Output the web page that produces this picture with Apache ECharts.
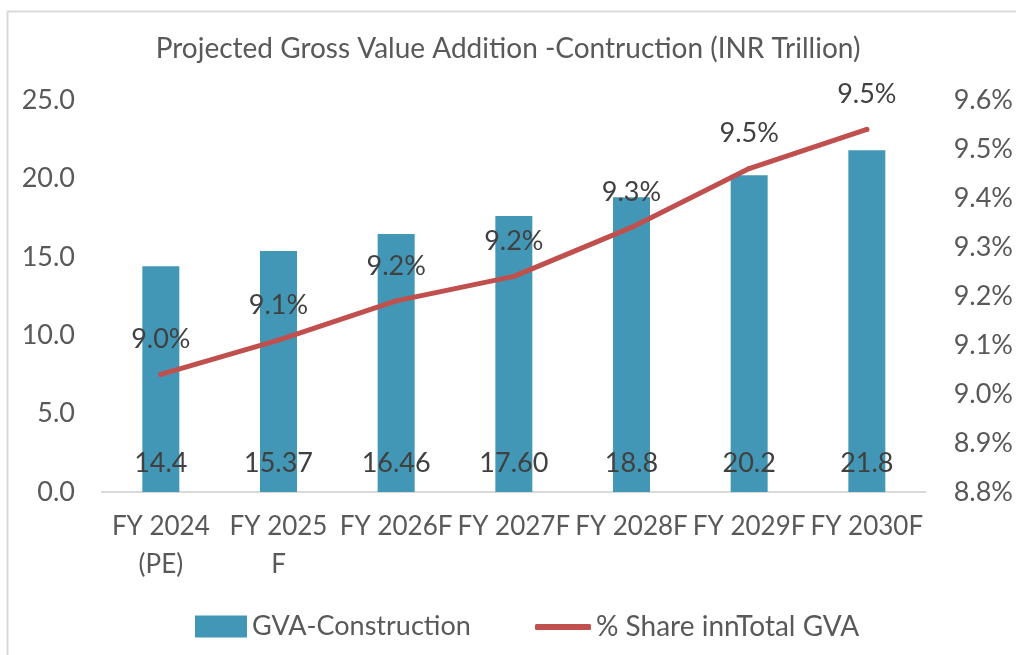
<!DOCTYPE html>
<html>
<head>
<meta charset="utf-8">
<script src="https://cdn.jsdelivr.net/npm/echarts@6/dist/echarts.min.js"></script>
<style>
  html, body { margin: 0; padding: 0; background: #fff; }
  #chart { width: 1016px; height: 655px; }
</style>
</head>
<body>
<div id="chart"></div>
<script>
// data
const categories = ["FY 2024\n(PE)", "FY 2025\nF", "FY 2026F", "FY 2027F", "FY 2028F", "FY 2029F", "FY 2030F"];
const gvaValues = [14.4, 15.37, 16.46, 17.60, 18.8, 20.2, 21.8];
const gvaLabels = ["14.4", "15.37", "16.46", "17.60", "18.8", "20.2", "21.8"];
const shareValues = [9.04, 9.11, 9.19, 9.24, 9.34, 9.46, 9.54];

const font = "Lato";
const chart = echarts.init(document.getElementById("chart"));

chart.setOption({
  animation: false,
  textStyle: { fontFamily: font },
  title: {
    text: "Projected Gross Value Addition -Contruction (INR Trillion)",
    left: "center",
    top: 30,
    textStyle: { fontFamily: font, fontSize: 28, fontWeight: "normal", color: "#595959" },
  },
  graphic: [
    {
      type: "rect",
      shape: { x: 7.5, y: 11.5, width: 1100, height: 700 },
      style: { fill: "none", stroke: "#d9d9d9", lineWidth: 2 },
      silent: true,
    },
  ],
  legend: [
    {
      data: ["GVA-Construction"],
      left: 190,
      top: 608,
      icon: "rect",
      itemWidth: 52,
      itemHeight: 22,
      itemGap: 8,
      textStyle: { fontFamily: font, fontSize: 27, color: "#595959" },
    },
    {
      data: ["% Share innTotal GVA"],
      left: 530,
      top: 608,
      icon: "roundRect",
      itemWidth: 56,
      itemHeight: 6,
      textStyle: { fontFamily: font, fontSize: 28, color: "#595959" },
    },
  ],
  grid: { left: 102, right: 85, top: 100, bottom: 163, containLabel: false },
  xAxis: {
    type: "category",
    data: categories,
    axisTick: { show: false },
    axisLine: { lineStyle: { color: "#d9d9d9", width: 2 } },
    axisLabel: {
      interval: 0,
      hideOverlap: false,
      margin: 16,
      fontSize: 26,
      lineHeight: 38,
      color: "#595959",
      fontFamily: font,
    },
  },
  yAxis: [
    {
      type: "value",
      min: 0,
      max: 25,
      interval: 5,
      axisLine: { show: false },
      axisTick: { show: false },
      splitLine: { show: false },
      axisLabel: {
        margin: 27,
        fontSize: 27,
        color: "#595959",
        fontFamily: font,
        formatter: (v) => v.toFixed(1),
      },
    },
    {
      type: "value",
      min: 8.8,
      max: 9.6,
      interval: 0.1,
      axisLine: { show: false },
      axisTick: { show: false },
      splitLine: { show: false },
      axisLabel: {
        margin: 28,
        fontSize: 27,
        color: "#595959",
        fontFamily: font,
        formatter: (v) => v.toFixed(1) + "%",
      },
    },
  ],
  series: [
    {
      name: "GVA-Construction",
      type: "bar",
      data: gvaValues,
      barWidth: 37,
      itemStyle: { color: "#4397b6" },
      label: {
        show: true,
        position: "insideBottom",
        distance: 15,
        fontSize: 27,
        color: "#404040",
        fontFamily: font,
        formatter: (p) => gvaLabels[p.dataIndex],
      },
    },
    {
      name: "% Share innTotal GVA",
      type: "line",
      yAxisIndex: 1,
      data: shareValues,
      symbol: "circle",
      symbolSize: 5,
      itemStyle: { color: "#c0504d" },
      lineStyle: { color: "#c0504d", width: 5, cap: "round", join: "round" },
      label: {
        show: true,
        position: "top",
        distance: 19,
        fontSize: 27,
        color: "#404040",
        fontFamily: font,
        formatter: (p) => p.value.toFixed(1) + "%",
      },
    },
  ],
});
</script>
</body>
</html>
